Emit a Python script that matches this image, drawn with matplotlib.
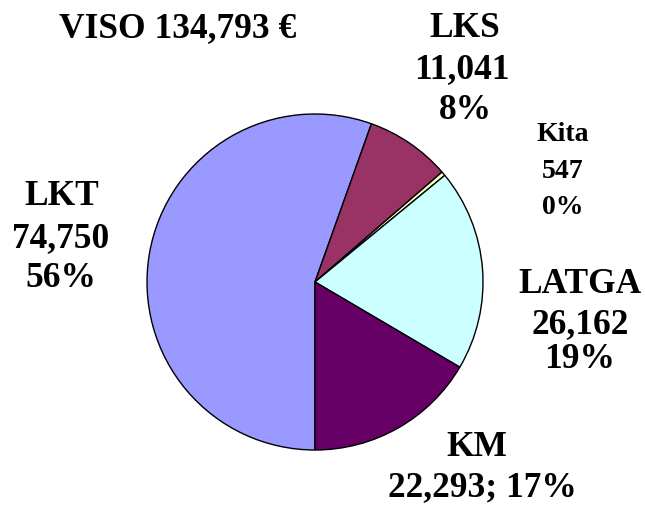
import matplotlib
matplotlib.use("Agg")
import matplotlib.pyplot as plt

categories = ["LKT", "LKS", "Kita", "LATGA", "KM"]
values = [74750, 11041, 547, 26162, 22293]
percents = ["56%", "8%", "0%", "19%", "17%"]
colors = ["#9999FF", "#993366", "#FFFFCC", "#CCFFFF", "#660066"]
total_label = "VISO 134,793 €"

W, H = 645, 508
fig = plt.figure(figsize=(W / 100, H / 100), dpi=100)

cx, cy, r = 315, 282, 168
ax = fig.add_axes([(cx - r) / W, (H - cy - r) / H, 2 * r / W, 2 * r / H])
ax.pie(values, colors=colors, startangle=-90, counterclock=False,
       wedgeprops=dict(edgecolor="black", linewidth=1.0))
ax.set_xlim(-1, 1)
ax.set_ylim(-1, 1)
ax.set_aspect("equal")
ax.axis("off")

font = dict(family="Liberation Serif", weight="bold", ha="center", va="baseline")

def fmt(v):
    return f"{v:,}"

def lines_for(i):
    if categories[i] == "KM":
        return [categories[i], f"{fmt(values[i])}; {percents[i]}"]
    return [categories[i], fmt(values[i]), percents[i]]

# label layout: (x centers per line, baselines per line, fontsize) in pixels
layout = {
    "LKT": ([62, 61, 61], [205, 247, 287], 25.5),
    "LKS": ([465, 462, 465], [37, 78, 119], 25.5),
    "Kita": ([563, 563, 563], [141, 178, 214], 20),
    "LATGA": ([580, 580, 580], [293, 333, 368], 25.5),
    "KM": ([477, 482], [456, 496], 25.5),
}
for i, cat in enumerate(categories):
    xs, ys, fs = layout[cat]
    for txt, x, y in zip(lines_for(i), xs, ys):
        fig.text(x / W, 1 - y / H, txt, fontsize=fs, **font)

fig.text(178 / W, 1 - 37 / H, total_label, fontsize=25.5, **font)

fig.savefig("out.png", dpi=100)
